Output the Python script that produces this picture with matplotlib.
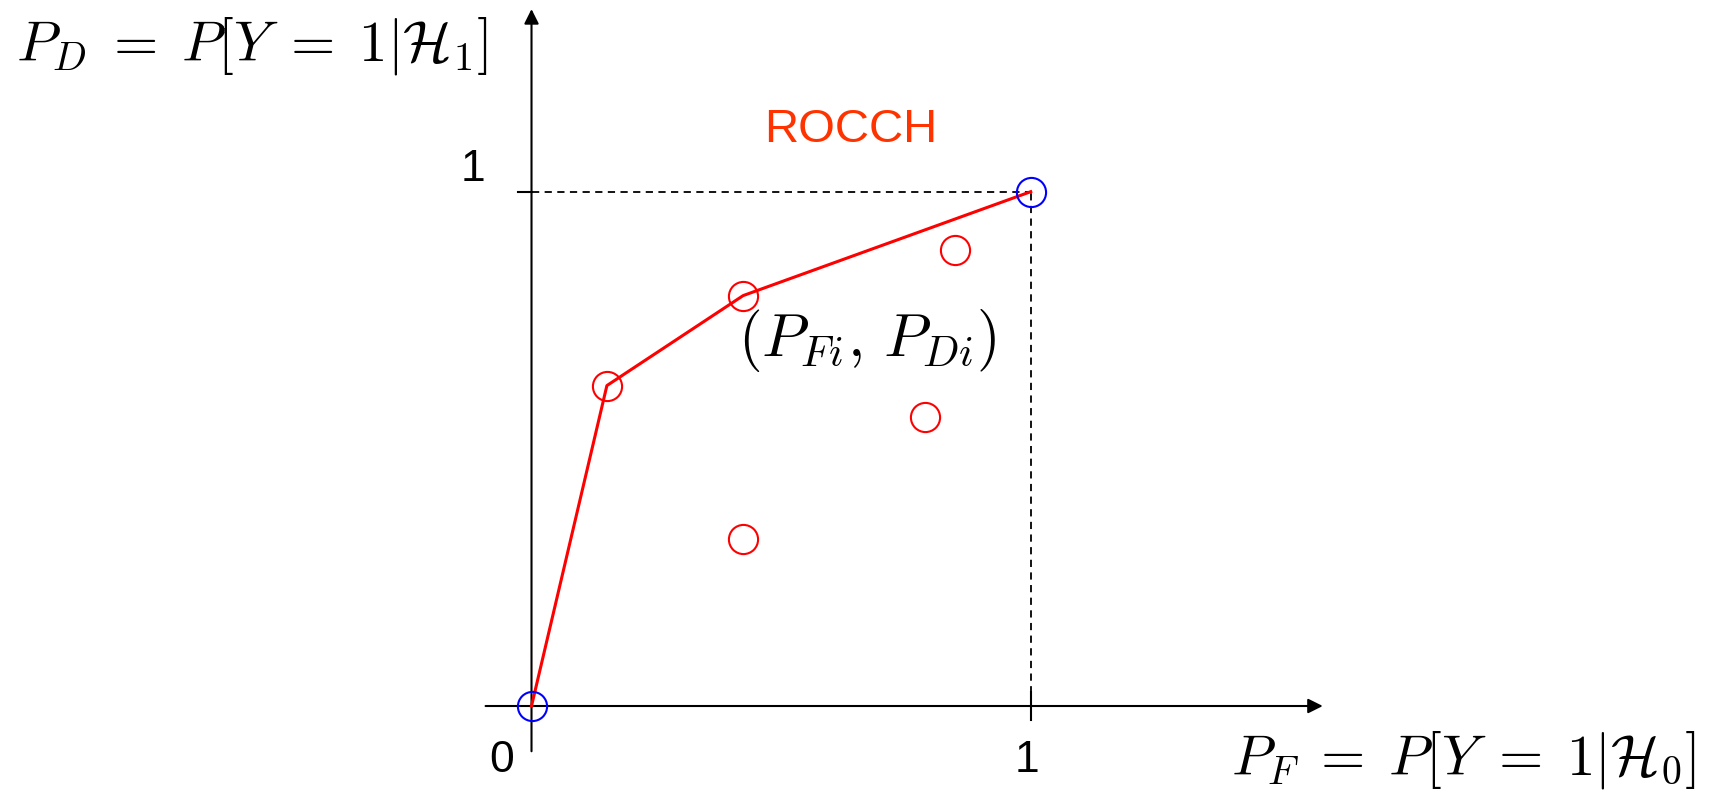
import matplotlib
matplotlib.use("Agg")
import matplotlib.pyplot as plt

plt.rcParams['mathtext.fontset'] = 'cm'

# Operating points (P_F, P_D) of the individual classifiers
pf_points = [0.151, 0.424, 0.849, 0.789, 0.424]
pd_points = [0.623, 0.798, 0.886, 0.561, 0.325]

# ROC convex hull vertices
hull_pf = [0.0, 0.151, 0.424, 1.0]
hull_pd = [0.0, 0.623, 0.798, 1.0]

# Trivial classifiers at the corners
corner_pf = [0.0, 1.0]
corner_pd = [0.0, 1.0]

fig = plt.figure(figsize=(17.1, 7.92), dpi=100)
ax = fig.add_axes([0, 0, 1, 1])
ax.set_xlim(-1.0647, 2.3607)
ax.set_ylim(-0.1672, 1.3727)
ax.axis('off')

# Axes with arrow heads
ax.annotate('', xy=(1.585, 0), xytext=(-0.092, 0),
            arrowprops=dict(arrowstyle='-|>', color='black', lw=1.5,
                            mutation_scale=22, shrinkA=0, shrinkB=0))
ax.annotate('', xy=(0, 1.355), xytext=(0, -0.088),
            arrowprops=dict(arrowstyle='-|>', color='black', lw=1.5,
                            mutation_scale=22, shrinkA=0, shrinkB=0))

# Tick marks at 1
ax.plot([-0.028, 0], [1, 1], color='black', lw=1.5)
ax.plot([1, 1], [-0.028, 0.028], color='black', lw=1.5)

# Dashed guides to (1, 1)
ax.plot([0, 1], [1, 1], color='black', lw=1.3, ls=(0, (4, 3)))
ax.plot([1, 1], [0, 1], color='black', lw=1.3, ls=(0, (4, 3)))

# ROCCH
ax.plot(hull_pf, hull_pd, color='#ff0000', lw=2.2, zorder=3)

# Operating points
ax.plot(pf_points, pd_points, ls='none', marker='o', ms=21, mfc='none',
        mec='#ff0000', mew=1.5, zorder=4)
ax.plot(corner_pf, corner_pd, ls='none', marker='o', ms=21, mfc='none',
        mec='#0000ff', mew=1.5, zorder=4)

# Tick labels
ax.text(-0.117, 1.043, '1', fontsize=32, family='Liberation Sans',
        ha='center', va='center')
ax.text(-0.06, -0.105, '0', fontsize=32, family='Liberation Sans',
        ha='center', va='center')
ax.text(0.993, -0.105, '1', fontsize=32, family='Liberation Sans',
        ha='center', va='center')

# Axis labels
ax.text(16 / 499.2 - 1.0647, 1.283,
        r'$P_D \;=\; P[Y \;=\; 1|\mathcal{H}_1]$',
        fontsize=41, ha='left', va='center')
ax.text(2.333, -0.105,
        r'$P_F \;=\; P[Y \;=\; 1|\mathcal{H}_0]$',
        fontsize=41, ha='right', va='center')

ax.text(0.639, 1.12, 'ROCCH', fontsize=34, family='Liberation Sans',
        color='#ff3300', ha='center', va='center')
ax.text(0.673, 0.71, r'$(P_{Fi},\, P_{Di})$', fontsize=44,
        ha='center', va='center')

fig.savefig('out.png', dpi=100)
